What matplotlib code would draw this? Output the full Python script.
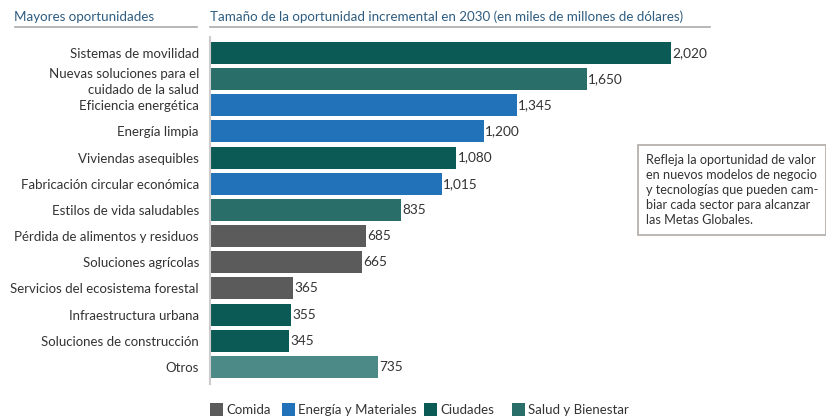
import matplotlib.pyplot as plt
from matplotlib.patches import Rectangle

plt.rcParams['font.family'] = ['Lato', 'DejaVu Sans']

categories = ['Sistemas de movilidad', 'Nuevas soluciones para el\ncuidado de la salud',
              'Eficiencia energética', 'Energía limpia', 'Viviendas asequibles',
              'Fabricación circular económica', 'Estilos de vida saludables',
              'Pérdida de alimentos y residuos', 'Soluciones agrícolas',
              'Servicios del ecosistema forestal', 'Infraestructura urbana',
              'Soluciones de construcción', 'Otros']
values = [2020, 1650, 1345, 1200, 1080, 1015, 835, 685, 665, 365, 355, 345, 735]
sectors = ['Ciudades', 'Salud y Bienestar', 'Energía y Materiales', 'Energía y Materiales',
           'Ciudades', 'Energía y Materiales', 'Salud y Bienestar', 'Comida', 'Comida',
           'Comida', 'Ciudades', 'Ciudades', 'Otros']
legend_names = ['Comida', 'Energía y Materiales', 'Ciudades', 'Salud y Bienestar']

colors = {'Comida': '#5b5b5b', 'Energía y Materiales': '#2172b8',
          'Ciudades': '#0c5a55', 'Salud y Bienestar': '#2a6e6a', 'Otros': '#4b8a87'}
head_col = '#2e5c80'
txt_col = '#333333'

W, H = 826, 420
fig = plt.figure(figsize=(W / 100, H / 100), dpi=100)
ax = fig.add_axes([210 / W, (H - 384) / H, 500 / W, 347 / H])

ypos = list(range(len(values)))
ax.barh(ypos, values, height=0.84, color=[colors[s] for s in sectors])
for y, v in zip(ypos, values):
    ax.text(v + 6, y, f'{v:,}', va='center', ha='left', fontsize=9.8, color=txt_col)

ax.set_xlim(0, 500 / 0.2282)
ax.set_ylim(12.65, -0.61)
ax.set_yticks(ypos)
ax.set_yticklabels(categories, fontsize=9.5, color=txt_col, linespacing=1.4)
ax.tick_params(axis='y', length=0, pad=8)
ax.set_xticks([])
for s in ['top', 'right', 'bottom']:
    ax.spines[s].set_visible(False)
ax.spines['left'].set_color('#cccccc')
ax.spines['left'].set_linewidth(1.5)

# headers
fig.text(14 / W, 1 - 17 / H, 'Mayores oportunidades', fontsize=9.6, color=head_col, va='center')
fig.text(210 / W, 1 - 17 / H,
         'Tamaño de la oportunidad incremental en 2030 (en miles de millones de dólares)',
         fontsize=9.6, color=head_col, va='center')
fig.add_artist(plt.Line2D([15 / W, 197 / W], [1 - 27 / H] * 2, color='#aaaaaa', lw=1.2))
fig.add_artist(plt.Line2D([210 / W, 710 / W], [1 - 27 / H] * 2, color='#aaaaaa', lw=1.2))

# note box
fig.text(646 / W, 1 - 190 / H,
         'Refleja la oportunidad de valor\nen nuevos modelos de negocio\ny tecnologías que pueden cam-\nbiar cada sector para alcanzar\nlas Metas Globales.',
         fontsize=9.1, color=txt_col, va='center', ha='left', linespacing=1.3)
fig.add_artist(Rectangle((638 / W, 1 - 235 / H), 188 / W, 90 / H, transform=fig.transFigure,
                         fill=False, edgecolor='#b0aaa5', lw=1.2))

# legend
lx = [210, 282, 424, 512]
for x, name in zip(lx, legend_names):
    fig.add_artist(Rectangle((x / W, 1 - 416 / H), 13 / W, 13 / H, transform=fig.transFigure,
                             facecolor=colors[name], edgecolor='none'))
    fig.text((x + 16) / W, 1 - 409.5 / H, name, fontsize=9.5, color=txt_col, va='center')

fig.savefig('out.png', dpi=100)
